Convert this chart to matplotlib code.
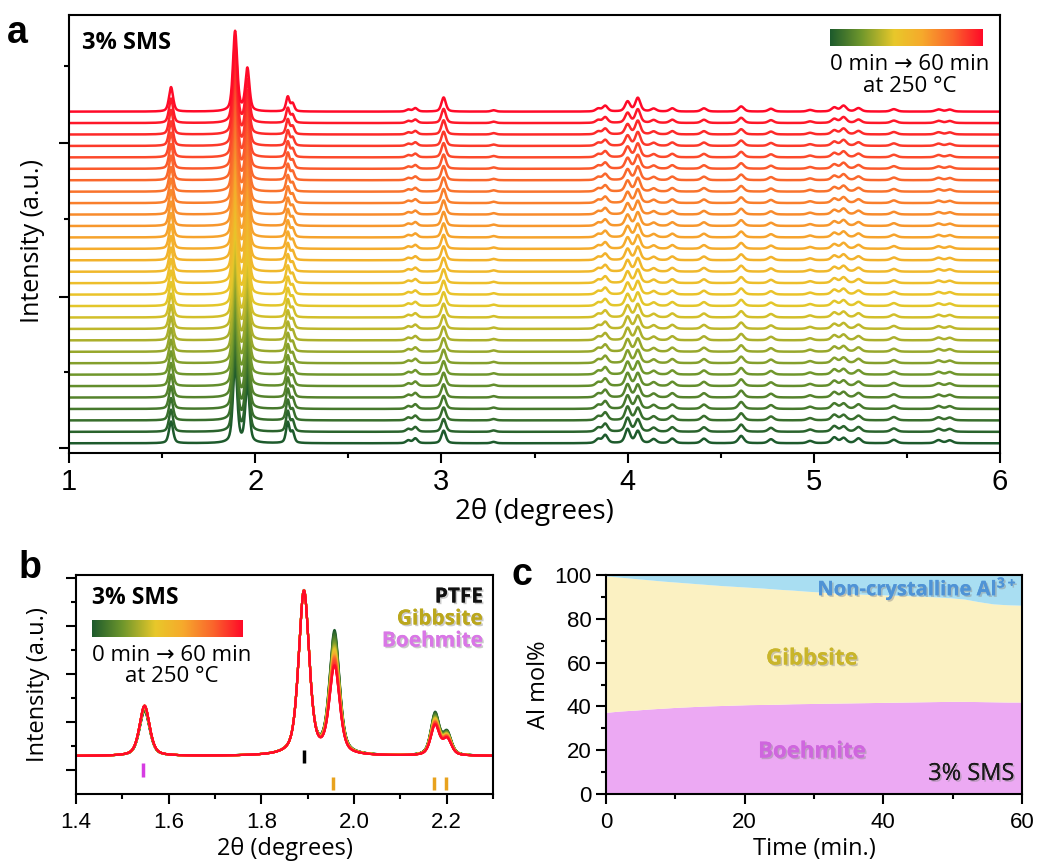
import numpy as np
import matplotlib
matplotlib.use('Agg')
import matplotlib.pyplot as plt
from matplotlib.colors import LinearSegmentedColormap
from matplotlib.ticker import FixedLocator, MultipleLocator
import matplotlib.patheffects as pe

plt.rcParams['font.family'] = ['Liberation Sans', 'DejaVu Sans']
plt.rcParams['mathtext.fontset'] = 'custom'
plt.rcParams['mathtext.rm'] = 'Open Sans'
plt.rcParams['mathtext.bf'] = 'Open Sans:bold'

# ---------------- data ----------------
# diffraction peaks (2theta, height at 0 min, fwhm, phase) P=PTFE G=gibbsite B=boehmite
peak_pos = [1.548, 1.892, 1.958, 2.175, 2.201, 2.822, 2.860, 3.012, 3.280,
            3.842, 3.880, 4.000, 4.055, 4.140, 4.240, 4.410, 4.610, 4.770,
            4.980, 5.110, 5.160, 5.240, 5.430, 5.670, 5.730]
peak_height = [1.9, 7.0, 5.25, 1.8, 0.95, 0.25, 0.42, 1.1, 0.12,
               0.35, 0.7, 1.22, 1.05, 0.35, 0.4, 0.4, 0.64, 0.35,
               0.2, 0.5, 0.45, 0.42, 0.3, 0.27, 0.25]
peak_fwhm = [0.026, 0.027, 0.026, 0.022, 0.022, 0.028, 0.028, 0.028, 0.03,
             0.032, 0.032, 0.032, 0.032, 0.034, 0.034, 0.035, 0.035, 0.035,
             0.036, 0.036, 0.036, 0.036, 0.038, 0.038, 0.038]
peak_phase = ['B', 'P', 'G', 'G', 'G', 'G', 'G', 'B', 'P',
              'G', 'G', 'G', 'B', 'G', 'G', 'G', 'G', 'G',
              'G', 'G', 'B', 'G', 'G', 'G', 'G']

# panel c: phase fractions (Al mol%) for the 30 scans, 0 -> 60 min
scan_time = np.linspace(0, 60, 30)
boehmite_pct = [37.3, 37.9, 38.3, 38.8, 39.2, 39.6, 39.9, 40.2, 40.4, 40.6,
                40.8, 40.9, 41.0, 41.2, 41.3, 41.4, 41.5, 41.6, 41.7, 41.8,
                41.9, 42.0, 42.1, 42.2, 42.3, 42.3, 42.2, 42.1, 42.0, 42.0]
crystalline_pct = [99.6, 99.0, 98.4, 97.8, 97.2, 96.7, 96.2, 95.7, 95.2, 94.8,
                   94.4, 94.0, 93.5, 93.1, 92.6, 92.2, 91.8, 91.5, 91.2, 91.0,
                   90.8, 90.6, 90.3, 90.0, 89.6, 89.0, 87.8, 86.8, 86.4, 86.2]

# reference tick marks in panel b
ref_ptfe = [1.892]
ref_gibbsite = [1.955, 2.172, 2.198]
ref_boehmite = [1.545]

boe = np.array(boehmite_pct)
gib = np.array(crystalline_pct) - boe

cmap = LinearSegmentedColormap.from_list('t', [(0, '#1d5a2c'), (0.2, '#6e962c'),
                                                (0.42, '#e8c82a'), (0.6, '#f6aa2c'),
                                                (0.8, '#fa662c'), (1, '#ff0a28')])

W, H = 1039, 863


def px(x0, y0, x1, y1):
    return [x0 / W, 1 - y1 / H, (x1 - x0) / W, (y1 - y0) / H]


def pattern(x, i):
    y = np.zeros_like(x)
    for p, h, w, ph in zip(peak_pos, peak_height, peak_fwhm, peak_phase):
        if ph == 'G':
            h = h * gib[i] / gib[0]
        elif ph == 'B':
            h = h * boe[i] / boe[0]
        d = (x - p) / (w / 2)
        y += h * (0.5 / (1 + d ** 2) + 0.5 * np.exp(-np.log(2) * d ** 2))
    return y


def shadow(c='#8a8a8a'):
    return [pe.withSimplePatchShadow(offset=(1.2, -1.2), shadow_rgbFace=c, alpha=0.45), pe.Normal()]


def style(ax, size, pad=3.5):
    ax.tick_params(which='both', direction='out', width=1.5, labelsize=size, top=False, right=False)
    ax.tick_params(which='major', length=7)
    ax.tick_params(which='minor', length=3.5)
    ax.tick_params(axis='x', pad=pad)
    for s in ax.spines.values():
        s.set_linewidth(1.5)


fig = plt.figure(figsize=(W / 100, H / 100), dpi=100)

# ---------------- a ----------------
ax = fig.add_axes(px(69, 15, 1000, 453))
x = np.arange(1.0, 6.0005, 0.002)
for i in range(30):
    ax.plot(x, pattern(x, i) + i, color=cmap(i / 29), lw=1.8)
ax.set_xlim(1, 6)
ax.set_ylim(-0.85, 37.45)
ax.set_xticks([1, 2, 3, 4, 5, 6])
ax.xaxis.set_minor_locator(MultipleLocator(0.5))
ax.yaxis.set_major_locator(FixedLocator([-0.4, 12.8, 26.3]))
ax.yaxis.set_minor_locator(FixedLocator([6.2, 19.6, 33.0]))
ax.set_yticklabels([])
style(ax, 21)
ax.set_xlabel('2θ (degrees)', family='Open Sans', fontsize=20, labelpad=2)
ax.set_ylabel('Intensity (a.u.)', family='Open Sans', fontsize=18)
ax.yaxis.set_label_coords(-0.026, 0.484)
fig.text(82 / W, 1 - 43 / H, '3% SMS', family='Open Sans', weight='bold', fontsize=17, va='center')
cb = fig.add_axes(px(830, 29, 983, 46))
cb.imshow(np.linspace(0, 1, 256)[None, :], aspect='auto', cmap=cmap)
cb.axis('off')
fig.text(910 / W, 1 - 65 / H, '0 min → 60 min', family=['Open Sans', 'DejaVu Sans'],
         fontsize=16, ha='center', va='center')
fig.text(910 / W, 1 - 86 / H, 'at 250 °C', family='Open Sans', fontsize=16, ha='center', va='center')
fig.text(17 / W, 1 - 33 / H, 'a', weight='bold', fontsize=27, ha='center', va='center')

# ---------------- b ----------------
ax = fig.add_axes(px(76, 575, 493, 794))
xb = np.arange(1.4, 2.3005, 0.001)
for i in range(30):
    ax.plot(xb, pattern(xb, i), color=cmap(i / 29), lw=1.5)
ax.vlines(ref_boehmite, -0.89, -0.30, color='#d63ce2', lw=2.5)
ax.vlines(ref_ptfe, -0.30, 0.26, color='black', lw=2.5)
ax.vlines(ref_gibbsite, -1.45, -0.89, color='#e8a21e', lw=2.5)
ax.set_xlim(1.4, 2.3)
ax.set_ylim(-1.62, 7.74)
ax.set_xticks([1.4, 1.6, 1.8, 2.0, 2.2])
ax.set_xticklabels(['1.4', '1.6', '1.8', '2.0', '2.2'])
ax.xaxis.set_minor_locator(MultipleLocator(0.1))
ax.yaxis.set_major_locator(FixedLocator([-0.59, 1.46, 3.51, 5.56, 7.61]))
ax.yaxis.set_minor_locator(FixedLocator([0.43, 2.48, 4.53, 6.58]))
ax.set_yticklabels([])
style(ax, 16, pad=6)
ax.set_xlabel('2θ (degrees)', family='Open Sans', fontsize=17, labelpad=3)
ax.set_ylabel('Intensity (a.u.)', family='Open Sans', fontsize=17, labelpad=8)
fig.text(92 / W, 1 - 598 / H, '3% SMS', family='Open Sans', weight='bold', fontsize=16.5, va='center')
cb = fig.add_axes(px(92, 620, 243, 637))
cb.imshow(np.linspace(0, 1, 256)[None, :], aspect='auto', cmap=cmap)
cb.axis('off')
fig.text(172 / W, 1 - 655 / H, '0 min → 60 min', family=['Open Sans', 'DejaVu Sans'],
         fontsize=16, ha='center', va='center')
fig.text(172 / W, 1 - 677 / H, 'at 250 °C', family='Open Sans', fontsize=16, ha='center', va='center')
for lab, col, yy in [('PTFE', '#111111', 597), ('Gibbsite', '#bba71c', 619), ('Boehmite', '#d977e6', 641)]:
    fig.text(483 / W, 1 - yy / H, lab, family='Open Sans', weight='bold', fontsize=15, color=col,
             ha='right', va='center', path_effects=shadow())
fig.text(30 / W, 1 - 568 / H, 'b', weight='bold', fontsize=27, ha='center', va='center')

# ---------------- c ----------------
ax = fig.add_axes(px(606, 575, 1022, 794))
ax.fill_between(scan_time, 0, boe, color='#eca9f3', lw=0)
ax.fill_between(scan_time, boe, crystalline_pct, color='#fbf1c2', lw=0)
ax.fill_between(scan_time, crystalline_pct, 100, color='#a9def2', lw=0)
ax.set_xlim(0, 60)
ax.set_ylim(0, 100)
ax.set_xticks([0, 20, 40, 60])
ax.xaxis.set_minor_locator(MultipleLocator(10))
ax.set_yticks([0, 20, 40, 60, 80, 100])
ax.yaxis.set_minor_locator(MultipleLocator(10))
style(ax, 16, pad=6)
ax.set_xlabel('Time (min.)', family='Open Sans', fontsize=17, labelpad=3)
ax.set_ylabel('Al mol%', family='Open Sans', fontsize=17, labelpad=2)
fig.text(1017 / W, 1 - 589 / H, 'Non-crystalline Al$^{\\mathbf{3+}}$', family='Open Sans', weight='bold',
         fontsize=14.5, color='#4f93d6', ha='right', va='center', path_effects=shadow())
fig.text(812 / W, 1 - 659 / H, 'Gibbsite', family='Open Sans', weight='bold', fontsize=16,
         color='#c9b52a', ha='center', va='center', path_effects=shadow())
fig.text(812 / W, 1 - 752 / H, 'Boehmite', family='Open Sans', weight='bold', fontsize=16,
         color='#cf66de', ha='center', va='center', path_effects=shadow())
fig.text(1014 / W, 1 - 774 / H, '3% SMS', family='Open Sans', fontsize=17, color='#1a1a1a',
         ha='right', va='center', path_effects=shadow())
fig.text(522 / W, 1 - 575 / H, 'c', weight='bold', fontsize=27, ha='center', va='center')

fig.savefig('out.png', dpi=100)
